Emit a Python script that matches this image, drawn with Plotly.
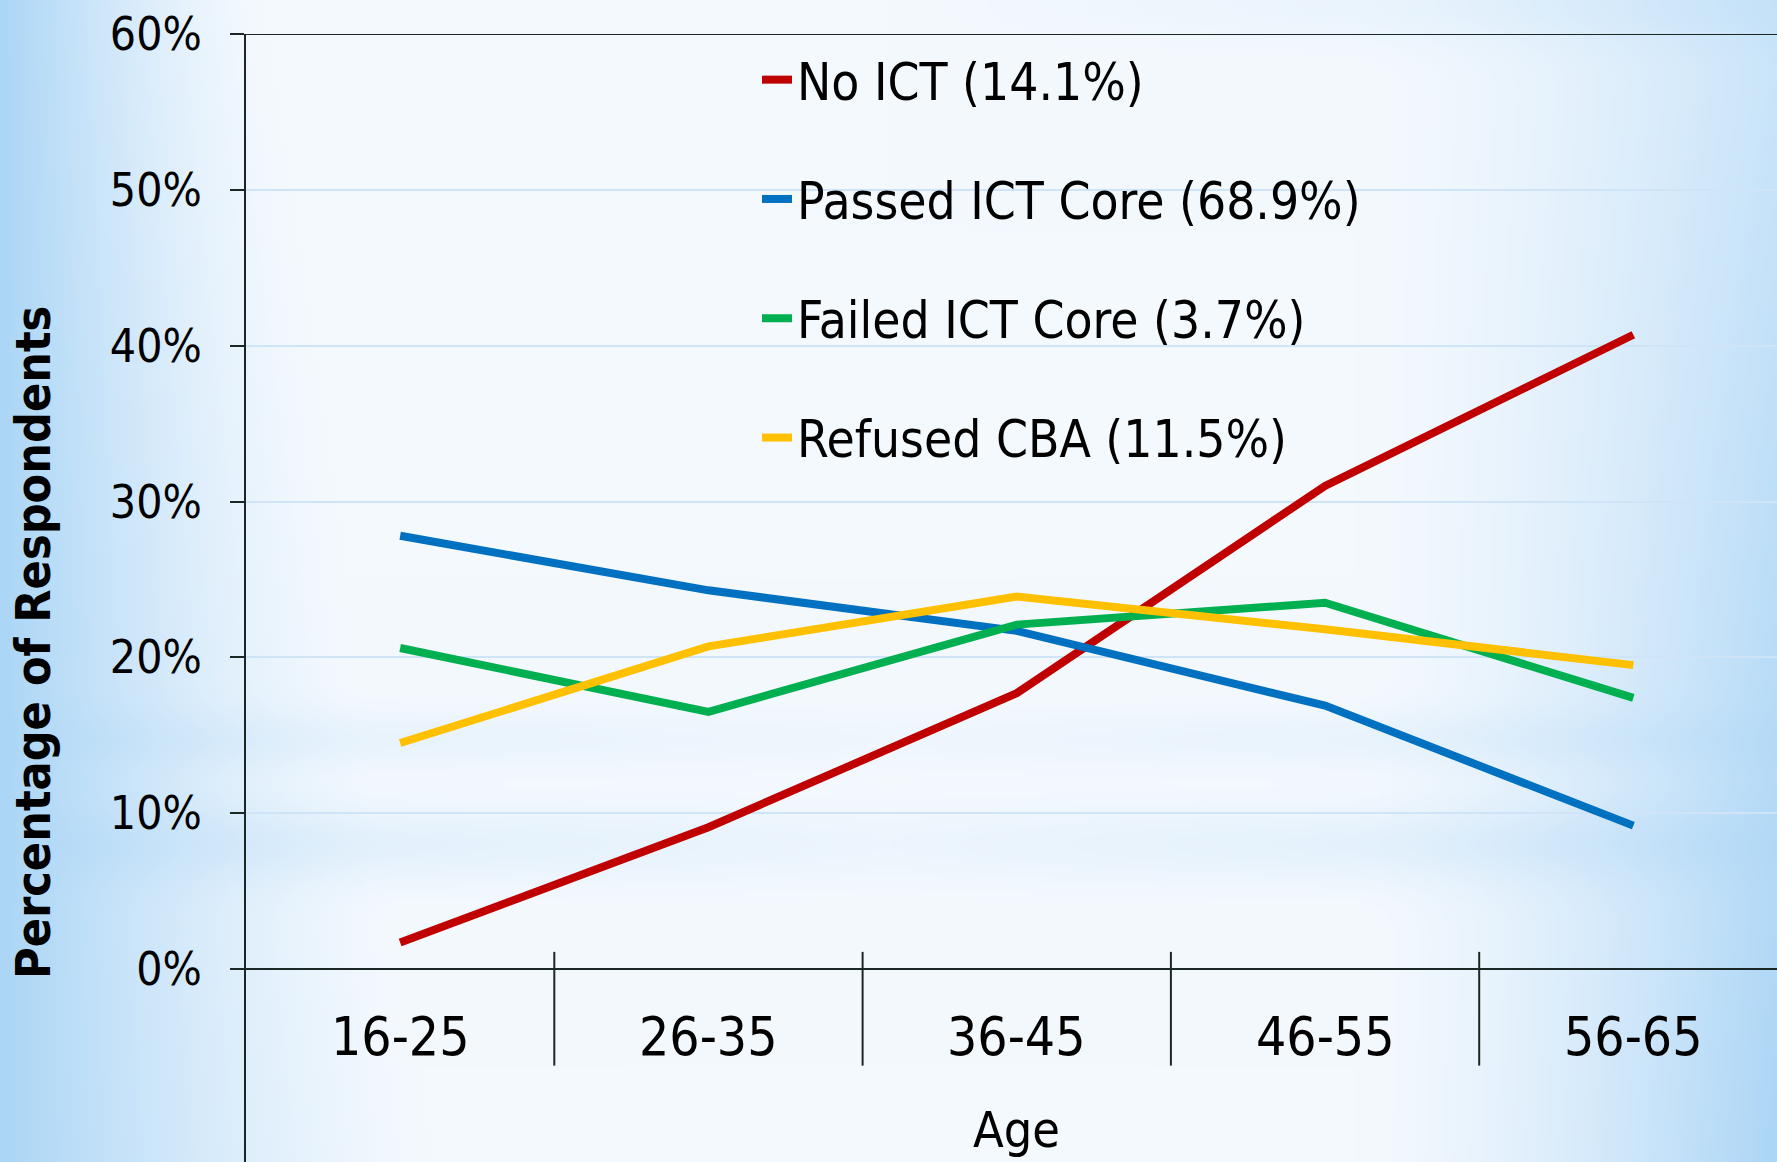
import base64
import struct
import zlib

import numpy as np
import plotly.graph_objects as go

# ---------------- data ----------------
categories = ["16-25", "26-35", "36-45", "46-55", "56-65"]
series_names = ["No ICT (14.1%)", "Passed ICT Core (68.9%)",
                "Failed ICT Core (3.7%)", "Refused CBA (11.5%)"]
no_ict = [1.7, 9.1, 17.7, 31.0, 40.7]
passed_core = [27.8, 24.3, 21.7, 16.9, 9.2]
failed_core = [20.6, 16.5, 22.1, 23.5, 17.4]
refused_cba = [14.5, 20.7, 23.9, 21.8, 19.5]
y_ticks = [0, 10, 20, 30, 40, 50, 60]
y_tick_labels = [f"{v}%" for v in y_ticks]
x_title = "Age"
y_title = "Percentage of Respondents"

series_values = [no_ict, passed_core, failed_core, refused_cba]
colors = ["#C00000", "#0070C0", "#00B050", "#FFC000"]

# ---------------- layout geometry (pixels) ----------------
W, H = 1777, 1162
M_L, M_T, M_R, M_B = 246, 34, 0, 0
PLOT_W = W - M_L - M_R
PLOT_H = H - M_T - M_B
ZERO_PX = 969                       # pixel row of 0%
PX_PER_PCT = (ZERO_PX - M_T) / 60.0
Y_MIN = -(H - M_B - ZERO_PX) / PX_PER_PCT
CAT_PX = 308.3
X_MAX = -0.5 + PLOT_W / CAT_PX

# ---------------- background gradient image ----------------
def make_png(arr):
    h, w, _ = arr.shape
    raw = b"".join(b"\x00" + arr[i].tobytes() for i in range(h))

    def chunk(t, d):
        return (struct.pack(">I", len(d)) + t + d +
                struct.pack(">I", zlib.crc32(t + d) & 0xffffffff))

    return (b"\x89PNG\r\n\x1a\n" +
            chunk(b"IHDR", struct.pack(">IIBBBBB", w, h, 8, 2, 0, 0, 0)) +
            chunk(b"IDAT", zlib.compress(raw, 9)) +
            chunk(b"IEND", b""))

gw, gh = 444, 290
xs = np.linspace(0, W, gw)[None, :]
ys = np.linspace(0, H, gh)[:, None]
u = xs / W
v = ys / H
wl = 260 + 170 * v
L = np.clip(1 - xs / wl, 0, 1) ** 1.4
wr = 420
R = np.clip((xs - (W - wr)) / wr, 0, 1) ** 1.5 * (0.55 + 0.45 * v)
mod = 0.3 + 0.7 * np.abs(u - 0.5) * 2
B = (0.22 * np.exp(-((ys - 740) / 28) ** 2) +
     0.32 * np.exp(-((ys - 845) / 38) ** 2)) * mod
T = 0.25 * np.exp(-(ys / 40) ** 2) * np.clip((u - 0.5) * 2, 0, 1)
wgt = 1 - (1 - L) * (1 - R) * (1 - B) * (1 - T)
base = np.array([244, 249, 254], dtype=float)
blue = np.array([172, 214, 246], dtype=float)
img = base[None, None, :] + (blue - base)[None, None, :] * wgt[..., None]
img = np.clip(img, 0, 255).astype(np.uint8)
bg_uri = "data:image/png;base64," + base64.b64encode(make_png(img)).decode()

# ---------------- figure ----------------
fig = go.Figure()
x_pos = list(range(len(categories)))
for i, (name, vals, col) in enumerate(zip(series_names, series_values, colors)):
    fig.add_trace(go.Scatter(
        x=x_pos, y=vals, name=name, mode="lines",
        line=dict(color=col, width=8),
        legendgroup=f"g{i}",
        customdata=categories,
        hovertemplate="%{customdata}: %{y:.1f}%<extra>" + name + "</extra>",
    ))

AX = "#1b2626"
TEXT_FONT = "DejaVu Sans Condensed, DejaVu Sans, sans-serif"
TICK_FONT = dict(family="Liberation Sans Narrow, DejaVu Sans Condensed, sans-serif",
                 size=46, color="#000000")

shapes = []
# top border line at 60%
shapes.append(dict(type="line", xref="paper", yref="y", x0=0, x1=1,
                   y0=y_ticks[-1], y1=y_ticks[-1], line=dict(color=AX, width=2)))
# category dividers (cross ticks)
for k in range(1, len(categories)):
    shapes.append(dict(type="line", xref="x", yref="y", x0=k - 0.5, x1=k - 0.5,
                       y0=1.1, y1=-6.2, line=dict(color=AX, width=2)))

annotations = []
for k, c in enumerate(categories):
    annotations.append(dict(x=k, y=-4.3, xref="x", yref="y", text=c,
                             showarrow=False, xanchor="center", yanchor="middle",
                             font=dict(family=TEXT_FONT, size=53, color="#000000")))
annotations.append(dict(x=(len(categories) - 1) / 2, y=-10.3, xref="x", yref="y",
                        text=x_title, showarrow=False, xanchor="center",
                        yanchor="middle",
                        font=dict(family=TEXT_FONT, size=50, color="#000000")))
annotations.append(dict(x=(33 - M_L) / PLOT_W, y=(H - 643) / PLOT_H,
                        xref="paper", yref="paper", text="<b>" + y_title + "</b>",
                        textangle=-90, showarrow=False, xanchor="center",
                        yanchor="middle",
                        font=dict(family=TEXT_FONT, size=48, color="#000000")))

fig.update_layout(
    width=W, height=H,
    margin=dict(l=M_L, r=M_R, t=M_T, b=M_B, pad=0),
    paper_bgcolor="#eef6fd",
    plot_bgcolor="rgba(0,0,0,0)",
    images=[dict(source=bg_uri, xref="paper", yref="paper",
                 x=-M_L / PLOT_W, y=1 + M_T / PLOT_H,
                 sizex=W / PLOT_W, sizey=H / PLOT_H,
                 xanchor="left", yanchor="top", sizing="stretch",
                 layer="below", opacity=1)],
    xaxis=dict(range=[-0.5, X_MAX], showgrid=False, zeroline=False,
               showticklabels=False, ticks="",
               showline=True, linecolor=AX, linewidth=2,
               anchor="free", position=(H - M_B - ZERO_PX) / PLOT_H),
    yaxis=dict(range=[Y_MIN, 60.0], tickvals=y_ticks, ticktext=y_tick_labels,
               ticks="outside", ticklen=14, tickwidth=2, tickcolor=AX,
               showline=True, linecolor=AX, linewidth=2,
               showgrid=True, gridcolor="#cfe5f7", gridwidth=2,
               zeroline=False, tickfont=TICK_FONT, ticklabelstandoff=19),
    legend=dict(x=(757 - M_L) / PLOT_W, y=(H - 40) / PLOT_H,
                xanchor="left", yanchor="top",
                bgcolor="rgba(0,0,0,0)", borderwidth=0,
                font=dict(family=TEXT_FONT, size=51, color="#000000"),
                tracegroupgap=50, itemwidth=30),
    shapes=shapes,
    annotations=annotations,
    showlegend=True,
)

fig.write_html("out.html", config={"displayModeBar": False})

# remove the default page margin so the figure sits at the window's origin
with open("out.html", "r", encoding="utf-8") as f:
    html = f.read()
html = html.replace("<body>", '<body style="margin:0;padding:0;overflow:hidden">', 1)
with open("out.html", "w", encoding="utf-8") as f:
    f.write(html)
